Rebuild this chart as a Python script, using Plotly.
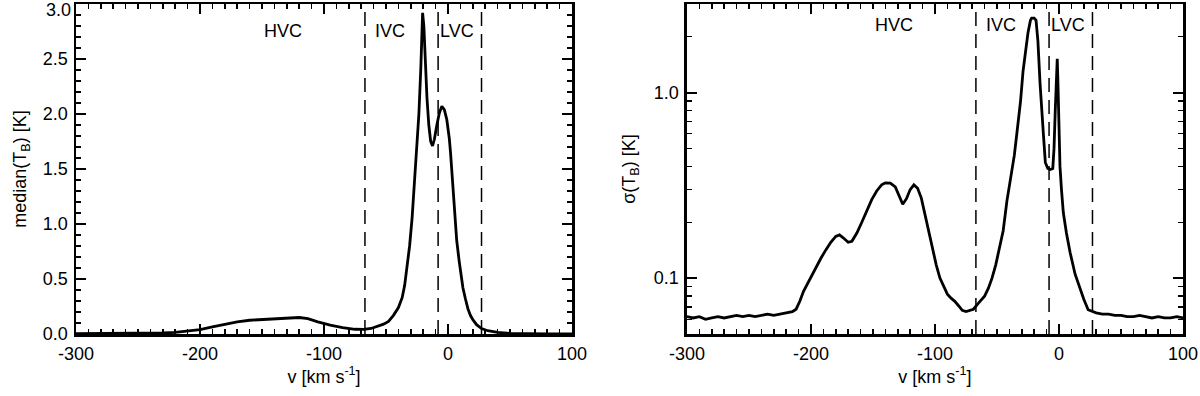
import plotly.graph_objects as go
from plotly.subplots import make_subplots
import numpy as np

# ---------- left panel: median(T_B) ----------
v_med = [-300, -280, -260, -240, -230, -220, -210, -200, -190, -180, -170, -160,
         -150, -140, -130, -120, -113, -105, -95, -85, -75, -68, -62, -57, -52,
         -48, -44, -40, -37, -35, -33, -31, -29, -27, -25, -23.5, -22, -21, -20.5,
         -19.5, -18.5, -17, -15.5, -14, -12.5, -11, -9, -7, -5, -3, -1, 0, 1, 2, 3,
         4, 5, 7, 9, 10, 12, 14, 16, 18, 20, 23, 27, 32, 40, 50, 60, 80, 100]
tb_med = [0.003, 0.003, 0.004, 0.006, 0.009, 0.015, 0.025, 0.04, 0.065, 0.09, 0.11, 0.125,
          0.13, 0.135, 0.14, 0.15, 0.14, 0.11, 0.08, 0.058, 0.043, 0.042, 0.05, 0.07, 0.09,
          0.115, 0.17, 0.24, 0.33, 0.44, 0.6, 0.8, 1.05, 1.38, 1.72, 2.0, 2.4, 2.8, 2.92,
          2.8, 2.5, 2.15, 1.9, 1.75, 1.71, 1.77, 1.9, 2.01, 2.07, 2.04, 1.95, 1.88, 1.78, 1.65, 1.5,
          1.3, 1.12, 0.85, 0.66, 0.58, 0.42, 0.32, 0.23, 0.17, 0.13, 0.085, 0.05, 0.03, 0.015, 0.006, 0.003, 0.002, 0.002]

# ---------- right panel: sigma(T_B) ----------
v_sig = [-300, -295, -290, -285, -280, -275, -270, -265, -260, -255, -250, -245, -240,
         -235, -230, -225, -220, -215, -212, -209, -206, -203, -200, -196, -192, -188,
         -184, -180, -177, -174, -170, -167, -163, -159, -155, -151, -147, -143, -140,
         -136, -132, -129, -126, -123, -120, -117, -114, -111, -108, -105, -102, -99,
         -96, -93, -90, -87, -84, -81, -78, -75, -72, -69, -66, -63, -60, -57, -54,
         -51, -48, -45, -42, -39, -36, -34, -31, -29, -27, -25, -23, -22, -20, -18.5,
         -17, -15.3, -12.6, -11, -9, -7, -5, -4, -3, -2, -1.4, -0.8, 0, 0.8, 2, 3.5,
         6, 9, 13, 17, 20, 23.5, 27, 30, 35, 40, 45, 50, 55, 60, 65, 70, 75, 80, 85,
         90, 95, 100]
tb_sig = [0.062, 0.061, 0.062, 0.060, 0.061, 0.062, 0.061, 0.062, 0.063, 0.062, 0.063, 0.062, 0.063,
          0.064, 0.063, 0.064, 0.065, 0.066, 0.068, 0.075, 0.085, 0.093, 0.100, 0.113, 0.128, 0.142,
          0.156, 0.168, 0.171, 0.165, 0.156, 0.158, 0.175, 0.200, 0.230, 0.265, 0.295, 0.318, 0.326,
          0.325, 0.310, 0.275, 0.250, 0.268, 0.300, 0.318, 0.305, 0.270, 0.220, 0.175, 0.142, 0.118,
          0.100, 0.090, 0.082, 0.078, 0.075, 0.071, 0.067, 0.066, 0.067, 0.068, 0.072, 0.076, 0.080, 0.088, 0.100,
          0.118, 0.145, 0.180, 0.260, 0.340, 0.460, 0.600, 0.900, 1.30, 1.70, 2.10, 2.45, 2.52, 2.52, 2.45,
          1.90, 1.13, 0.60, 0.42, 0.39, 0.385, 0.39, 0.50, 0.80, 1.30, 1.52, 1.10, 0.60, 0.40, 0.30, 0.225,
          0.175, 0.137, 0.105, 0.0865, 0.077, 0.0676, 0.066, 0.065, 0.064, 0.064, 0.063, 0.063, 0.062, 0.062,
          0.063, 0.062, 0.061, 0.062, 0.061, 0.061, 0.062, 0.061]

boundaries = [-67, -8, 27]
region_names = ["HVC", "IVC", "LVC"]
hvc_center = -133

x_ticks = [-300, -200, -100, 0, 100]
x_ticktext = ["-300", "-200", "-100", "0", "100"]
med_ticks = [0.0, 0.5, 1.0, 1.5, 2.0, 2.5, 3.0]
sig_ticks = [0.1, 1.0]
sig_minor = [0.06, 0.07, 0.08, 0.09, 0.2, 0.3, 0.4, 0.5, 0.6, 0.7, 0.8, 0.9, 2.0, 3.0]

FONT = "Liberation Sans, Arial, Helvetica, sans-serif"
FS = 18

fig = make_subplots(rows=1, cols=2)

fig.add_trace(go.Scatter(x=v_med, y=tb_med, mode="lines",
                         line=dict(color="black", width=2.8), showlegend=False),
              row=1, col=1)
fig.add_trace(go.Scatter(x=v_sig, y=tb_sig, mode="lines",
                         line=dict(color="black", width=2.8), showlegend=False),
              row=1, col=2)

# region boundaries and labels
for xr, yr in (("x", "y domain"), ("x2", "y2 domain")):
    for b in boundaries:
        fig.add_shape(type="line", xref=xr, yref=yr, x0=b, x1=b, y0=0, y1=1,
                      line=dict(color="black", width=1.5, dash="14px,8px"))

label_y = {"y domain": 0.918, "y2 domain": 0.936}
for xr, yr in (("x", "y domain"), ("x2", "y2 domain")):
    fig.add_annotation(x=hvc_center, y=label_y[yr], xref=xr, yref=yr, yanchor="middle",
                       text=region_names[0], showarrow=False, xanchor="center")
    fig.add_annotation(x=boundaries[0], y=label_y[yr], xref=xr, yref=yr, yanchor="middle",
                       text=region_names[1], showarrow=False, xanchor="left", xshift=8)
    fig.add_annotation(x=boundaries[1], y=label_y[yr], xref=xr, yref=yr, yanchor="middle",
                       text=region_names[2], showarrow=False, xanchor="left", xshift=0)

# top label of the left y axis, nudged inside like the original
med_ticktext = [f"{t:.1f}" for t in med_ticks]
fig.add_annotation(x=0, y=1, xref="x domain", yref="y domain", xanchor="right",
                   yanchor="middle", yshift=-6, xshift=-3, showarrow=False,
                   text=med_ticktext[-1])
med_ticktext[-1] = ""

axis_common = dict(showline=True, linewidth=2.5, linecolor="black", mirror="allticks",
                   ticks="inside", ticklen=10, tickwidth=2, tickcolor="black",
                   showgrid=False, zeroline=False, automargin=False,
                   ticklabeloverflow="allow",
                   tickfont=dict(size=FS, color="black"))

fig.update_xaxes(**axis_common, range=[-300, 100], tickvals=x_ticks, ticktext=x_ticktext,
                 ticklabelstandoff=2,
                 minor=dict(ticks="inside", dtick=10, ticklen=5, tickwidth=1.5, tickcolor="black"),
                 title=dict(text="v [km s<sup>-1</sup>]", font=dict(size=FS), standoff=4))
fig.update_xaxes(domain=[0, 0.4481], row=1, col=1)
fig.update_xaxes(domain=[0.5519, 1], row=1, col=2)

fig.update_yaxes(**axis_common, range=[0, 3.0], tickvals=med_ticks,
                 ticktext=med_ticktext, ticklabelstandoff=2,
                 minor=dict(ticks="inside", dtick=0.1, ticklen=5, tickwidth=1.5, tickcolor="black"),
                 title=dict(text="median(T<sub>B</sub>) [K]", font=dict(size=FS), standoff=12),
                 row=1, col=1)
fig.update_yaxes(**axis_common, type="log", range=[np.log10(0.05), np.log10(3.0)],
                 tickvals=sig_ticks, ticktext=["0.1", "1.0"], ticklabelstandoff=2,
                 minor=dict(ticks="inside", tickvals=sig_minor, ticklen=5, tickwidth=1.5, tickcolor="black"),
                 title=dict(text="σ(T<sub>B</sub>) [K]", font=dict(size=FS), standoff=14),
                 row=1, col=2)

fig.update_layout(
    width=1200, height=396,
    margin=dict(l=76, r=17, t=4, b=62),
    plot_bgcolor="white", paper_bgcolor="white",
    font=dict(family=FONT, size=FS, color="black"),
)

fig.write_html("out.html",
               config={"displayModeBar": False, "staticPlot": True},
               post_script="document.body.style.margin='0';document.body.style.overflow='hidden';")
